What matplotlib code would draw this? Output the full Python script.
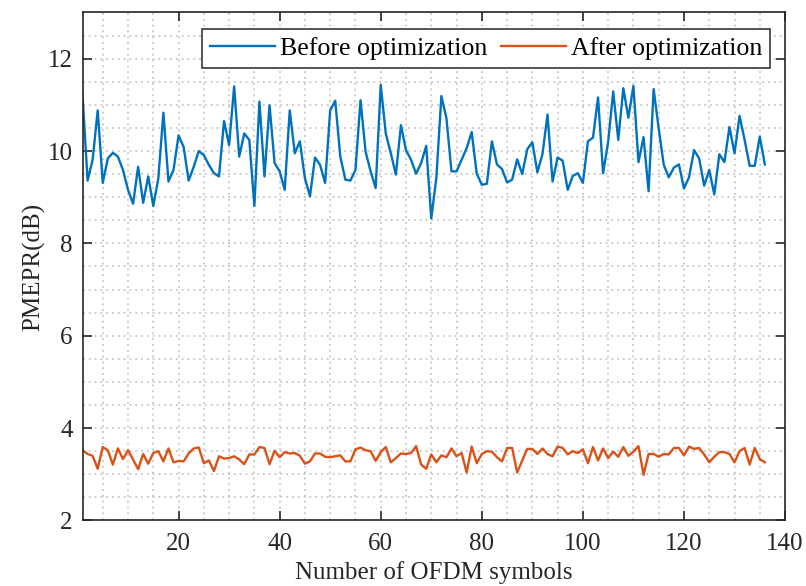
"""PMEPR per OFDM symbol before and after optimization."""

import numpy
from matplotlib import pyplot
from matplotlib.ticker import MultipleLocator

# PMEPR (dB), symbols 1..136.
before = [
    11.21, 9.36, 9.81, 10.88, 9.31, 9.84, 9.96, 9.88, 9.59, 9.16,
    8.86, 9.66, 8.88, 9.45, 8.81, 9.41, 10.83, 9.34, 9.59, 10.34,
    10.09, 9.36, 9.66, 10.0, 9.91, 9.7, 9.52, 9.45, 10.65,
    10.13, 11.4, 9.88, 10.38, 10.24, 8.81, 11.07, 9.45, 10.99, 9.74,
    9.56, 9.16, 10.88, 9.95, 10.21, 9.41, 9.02, 9.86, 9.7, 9.31,
    10.88, 11.09, 9.88, 9.38, 9.36, 9.59, 11.1,
    9.99, 9.56, 9.2, 11.43, 10.38, 9.95, 9.49, 10.56, 10.02, 9.81,
    9.51, 9.74, 10.11, 8.54, 9.41, 11.19, 10.71, 9.56, 9.56, 9.81,
    10.06, 10.41, 9.51, 9.27, 9.29, 10.21, 9.71, 9.61,
    9.32, 9.38, 9.82, 9.5, 10.04, 10.19, 9.54, 9.93, 10.79, 9.34,
    9.86, 9.79, 9.16, 9.46, 9.52, 9.31, 10.21, 10.29, 11.16, 9.52,
    10.2, 11.29, 10.24, 11.36, 10.72, 11.41, 9.76, 10.3,
    9.13, 11.34, 10.49, 9.7, 9.43, 9.64, 9.71, 9.19, 9.43, 10.02,
    9.84, 9.25, 9.59, 9.06, 9.93, 9.76, 10.52, 9.95, 10.76, 10.24,
    9.68, 9.68, 10.31, 9.71,
]
after = [
    3.52, 3.44, 3.40, 3.12, 3.59, 3.52, 3.21, 3.56, 3.33, 3.52,
    3.32, 3.11, 3.44, 3.23, 3.46, 3.5, 3.28, 3.56, 3.26, 3.29,
    3.28, 3.45, 3.56, 3.58, 3.24, 3.3, 3.07, 3.39, 3.34,
    3.35, 3.39, 3.32, 3.22, 3.43, 3.43, 3.59, 3.57, 3.22, 3.51,
    3.37, 3.48, 3.45, 3.46, 3.40, 3.23, 3.28, 3.45, 3.45, 3.38,
    3.37, 3.39, 3.41, 3.28, 3.28, 3.54, 3.58,
    3.52, 3.5, 3.29, 3.48, 3.59, 3.26, 3.35, 3.45, 3.44, 3.46,
    3.61, 3.21, 3.12, 3.43, 3.26, 3.41, 3.37, 3.56, 3.39, 3.46,
    3.04, 3.6, 3.24, 3.44, 3.5, 3.49, 3.37, 3.28,
    3.57, 3.57, 3.04, 3.3, 3.55, 3.55, 3.44, 3.56, 3.44, 3.39,
    3.6, 3.57, 3.43, 3.5, 3.46, 3.54, 3.24, 3.59, 3.3, 3.56,
    3.35, 3.49, 3.38, 3.59, 3.4, 3.49, 3.61, 2.99,
    3.44, 3.44, 3.38, 3.44, 3.43, 3.57, 3.57, 3.41, 3.6, 3.55,
    3.57, 3.43, 3.26, 3.38, 3.48, 3.48, 3.44, 3.26, 3.5, 3.57,
    3.21, 3.57, 3.33, 3.26,
]
symbols = numpy.arange(1, len(before) + 1)
labels = ['Before optimization', 'After optimization']

pyplot.rc('font', family=['Liberation Serif', 'DejaVu Serif'], size=18)
fig = pyplot.figure(figsize=(8.06, 5.86), dpi=100)
ax = fig.add_axes([0.1024, 0.1118, 0.8716, 0.8669])

ax.plot(symbols, before, color='#0072BD', linewidth=1.7, label=labels[0])
ax.plot(symbols, after, color='#D95319', linewidth=1.7, label=labels[1])

ax.set_xlim(1, 140)
ax.set_ylim(2, 13)
ax.set_xticks(numpy.arange(20, 141, 20))
ax.set_yticks(numpy.arange(2, 13, 2))
ax.xaxis.set_minor_locator(MultipleLocator(5))
ax.yaxis.set_minor_locator(MultipleLocator(0.5))
ax.tick_params(which='major', direction='in', length=6.5, width=1.2,
               color='#262626', labelcolor='#262626',
               top=True, right=True)
ax.tick_params(axis='x', pad=9)
ax.tick_params(axis='y', pad=7)
ax.tick_params(which='minor', length=0, top=True, right=True)
ax.grid(which='both', linestyle=(0, (1.2, 2.6)), linewidth=1.1,
        color='#bdbdbd')
for spine in ax.spines.values():
    spine.set_linewidth(1.2)
    spine.set_color('#262626')

ax.set_xlabel('Number of OFDM symbols', color='#262626', labelpad=4)
ax.set_ylabel('PMEPR(dB)', color='#262626', labelpad=2)

leg = ax.legend(ncol=2, loc='upper right', bbox_to_anchor=(0.979, 0.967),
                fancybox=False, framealpha=1.0, edgecolor='#262626',
                fontsize=18.6, handlelength=2.5, handletextpad=0.2,
                columnspacing=0.55, borderpad=0.3, borderaxespad=0.0)
leg.get_frame().set_linewidth(1.1)

fig.savefig('out.png', dpi=100)
